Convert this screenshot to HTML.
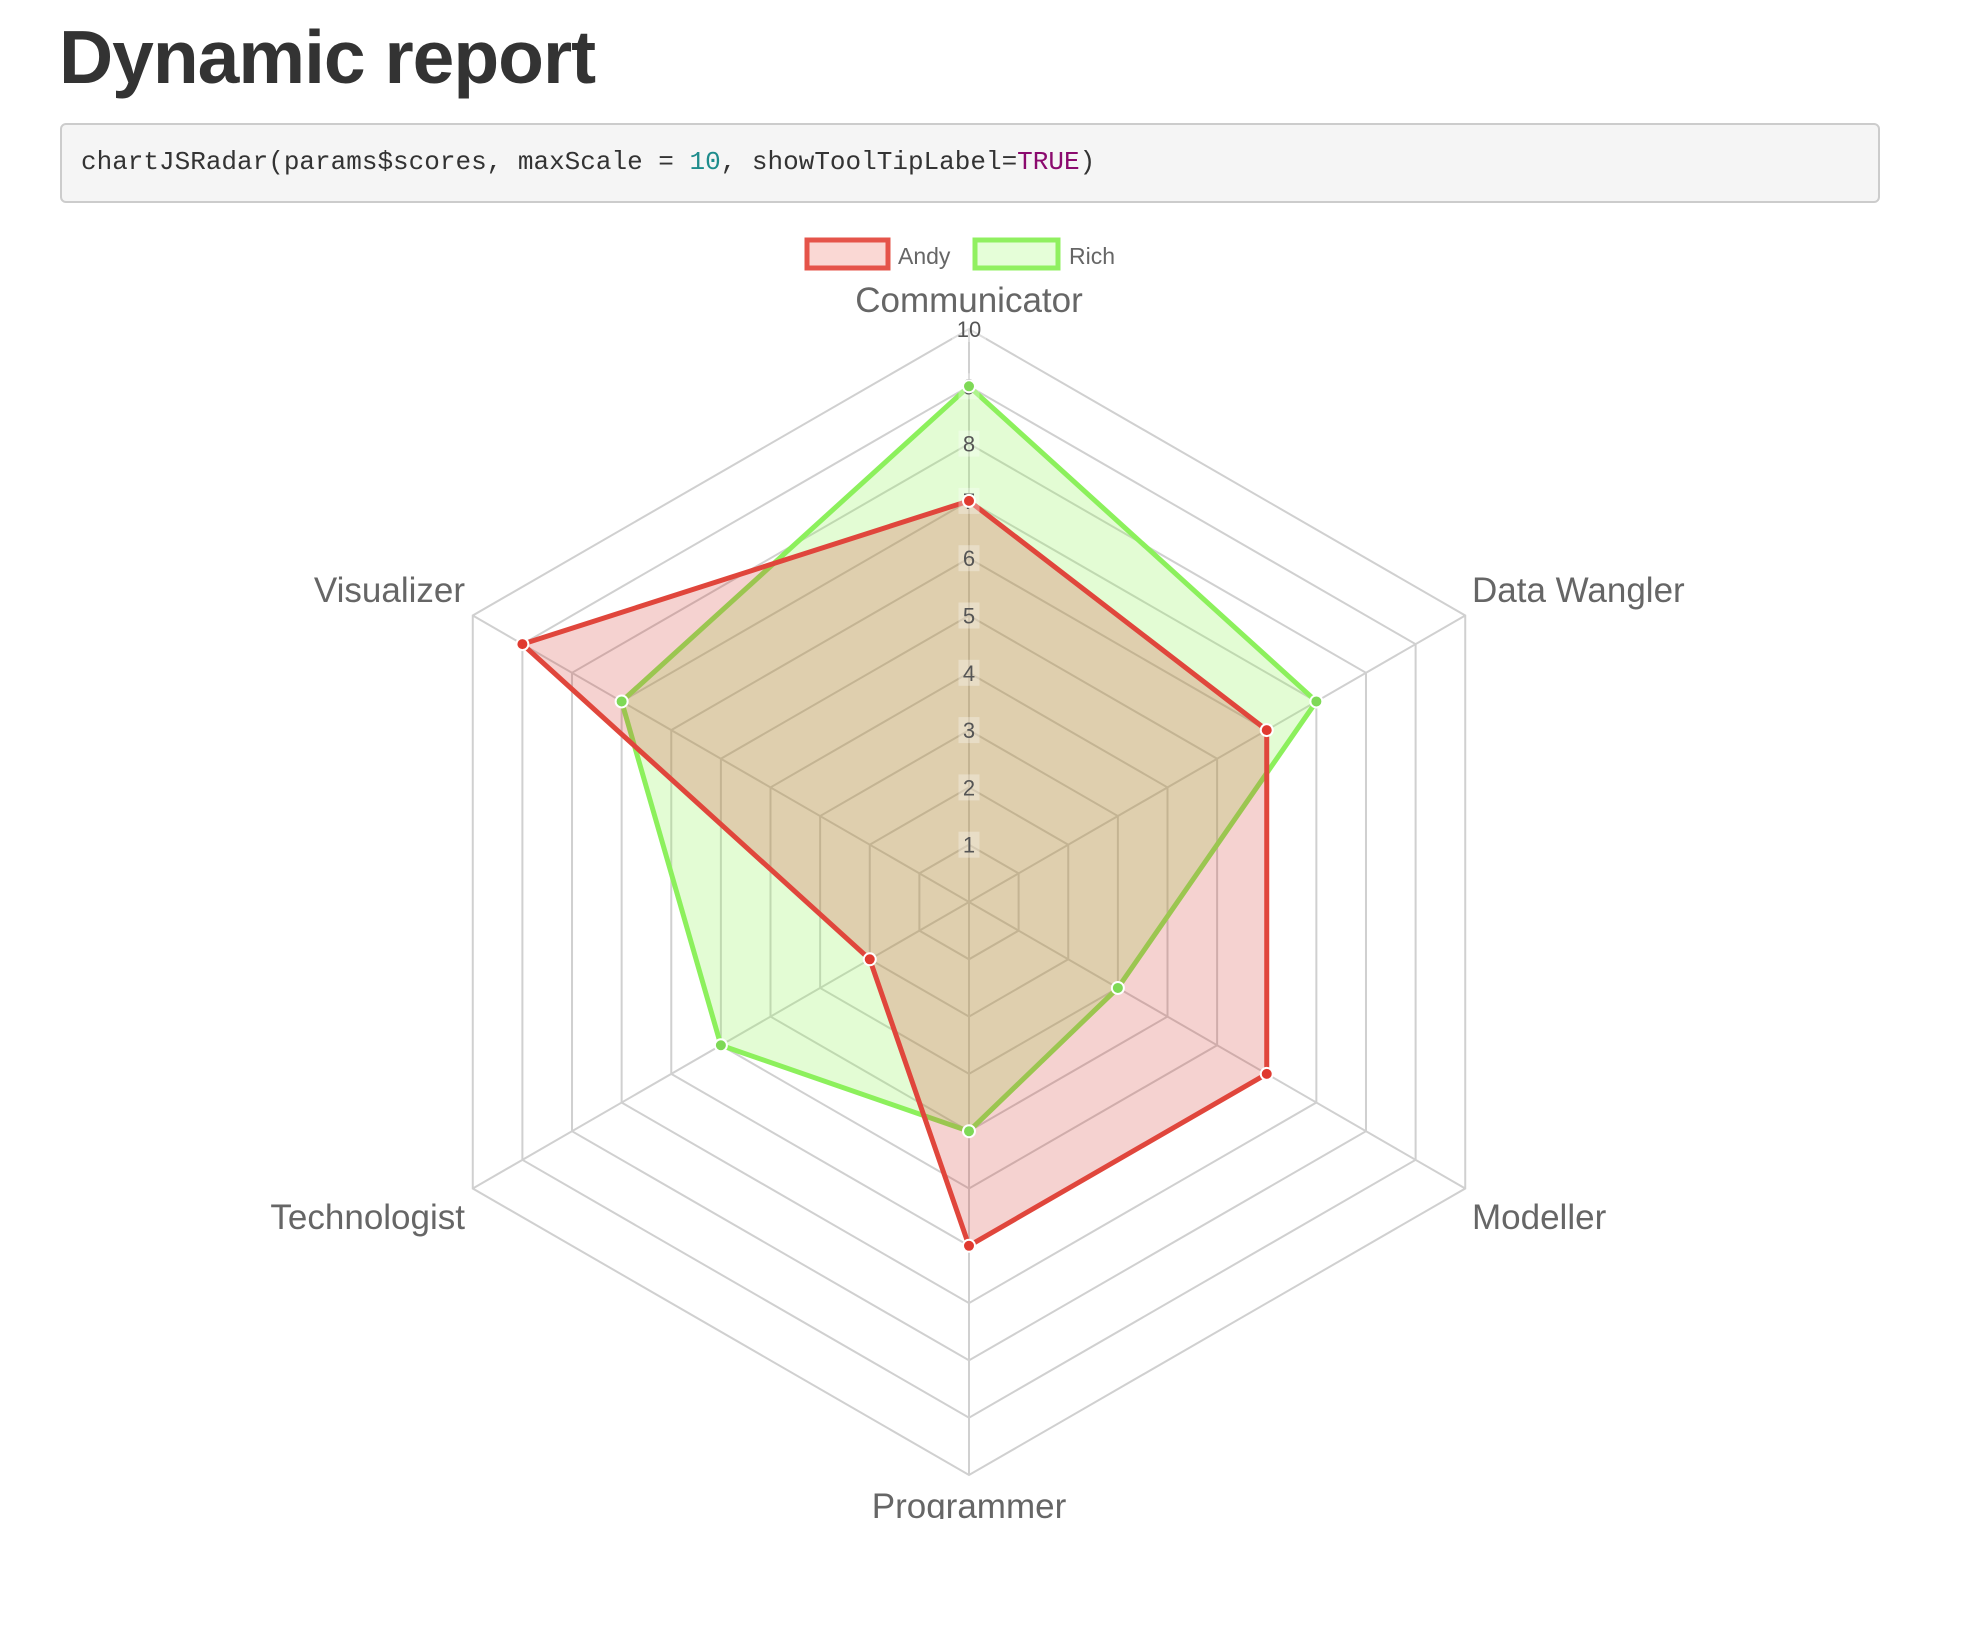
<!DOCTYPE html>
<html><head><meta charset="utf-8">
<style>
html,body{margin:0;padding:0;background:#fff;width:1982px;height:1646px;overflow:hidden}
h1{position:absolute;left:59px;top:14px;margin:0;font:bold 75px "Liberation Sans",sans-serif;color:#333;letter-spacing:-1px}
.code{position:absolute;left:60px;top:123px;height:80px;background:#f5f5f5;border:2px solid #ccc;border-radius:6px;box-sizing:border-box;width:1820px}
.code span.t{position:absolute;left:19px;top:22px;font:26px "Liberation Mono",monospace;color:#333;white-space:pre}
svg{position:absolute;left:0;top:0}
</style></head><body>
<h1>Dynamic report</h1>
<div class="code"><span class="t">chartJSRadar(params$scores, maxScale = <span style="color:#1e8c8c">10</span>, showToolTipLabel=<span style="color:#8b0a6e">TRUE</span>)</span></div>
<svg id="s" width="1982" height="1646" xmlns="http://www.w3.org/2000/svg" font-family="Liberation Sans, sans-serif">
<defs><clipPath id="cp"><rect x="0" y="220" width="1982" height="1299"/></clipPath></defs>
<g id="legend">
<rect x="807" y="240" width="81" height="28" fill="rgba(231,76,60,0.22)" stroke="#e5544a" stroke-width="5"/>
<text x="898" y="264" font-size="23" fill="#666">Andy</text>
<rect x="975" y="240" width="83" height="28" fill="rgba(150,250,100,0.25)" stroke="#90f060" stroke-width="5"/>
<text x="1069" y="264" font-size="23" fill="#666">Rich</text>
</g>
<g clip-path="url(#cp)" id="chart"></g>
</svg>
<script>
var cx=969,cy=902,r1=57.3,NS="http://www.w3.org/2000/svg",g=document.getElementById('chart');
function el(t,a,txt){var e=document.createElementNS(NS,t);for(var k in a)e.setAttribute(k,a[k]);if(txt!==undefined)e.textContent=txt;g.appendChild(e);return e;}
function pt(i,v){var a=(-90+60*i)*Math.PI/180;return [cx+Math.cos(a)*v*r1,cy+Math.sin(a)*v*r1];}
for(var k=1;k<=10;k++){var p=[];for(var i=0;i<6;i++)p.push(pt(i,k).join(','));el('polygon',{points:p.join(' '),fill:'none',stroke:'#d0d0d0','stroke-width':2});}
for(var i=0;i<6;i++){var q=pt(i,10);el('line',{x1:cx,y1:cy,x2:q[0],y2:q[1],stroke:'#d0d0d0','stroke-width':2});}
function ds(v,fill,stroke,pc){var p=[];for(var i=0;i<6;i++)p.push(pt(i,v[i]).join(','));el('polygon',{points:p.join(' '),fill:fill,stroke:stroke,'stroke-width':5,'stroke-linejoin':'miter'});return function(){for(var i=0;i<6;i++){var q=pt(i,v[i]);el('circle',{cx:q[0],cy:q[1],r:6,fill:pc,stroke:'#fff','stroke-width':2});}};}
var rp=ds([9,7,3,4,5,7],'rgba(145,245,90,0.26)','#8cf05c','#7ed956');
var ap=ds([7,6,6,6,2,9],'rgba(210,50,40,0.22)','#e0463c','#e03a30');
for(var k=1;k<=10;k++){var y=cy-k*r1;var w=k==10?28:15;el('rect',{x:cx-w/2-3,y:y-13,width:w+6,height:26,fill:'rgba(255,255,255,0.3)'});el('text',{x:cx,y:y+8,'font-size':22,fill:'#555','text-anchor':'middle'},String(k));}
rp();ap();
var L=[['Communicator',969,312,'middle'],['Data Wangler',1472,602,'start'],['Modeller',1472,1229,'start'],['Programmer',969,1518,'middle'],['Technologist',465,1229,'end'],['Visualizer',465,602,'end']];
L.forEach(function(l){el('text',{x:l[1],y:l[2],'font-size':35,fill:'#666','text-anchor':l[3]},l[0]);});
</script>
</body></html>
